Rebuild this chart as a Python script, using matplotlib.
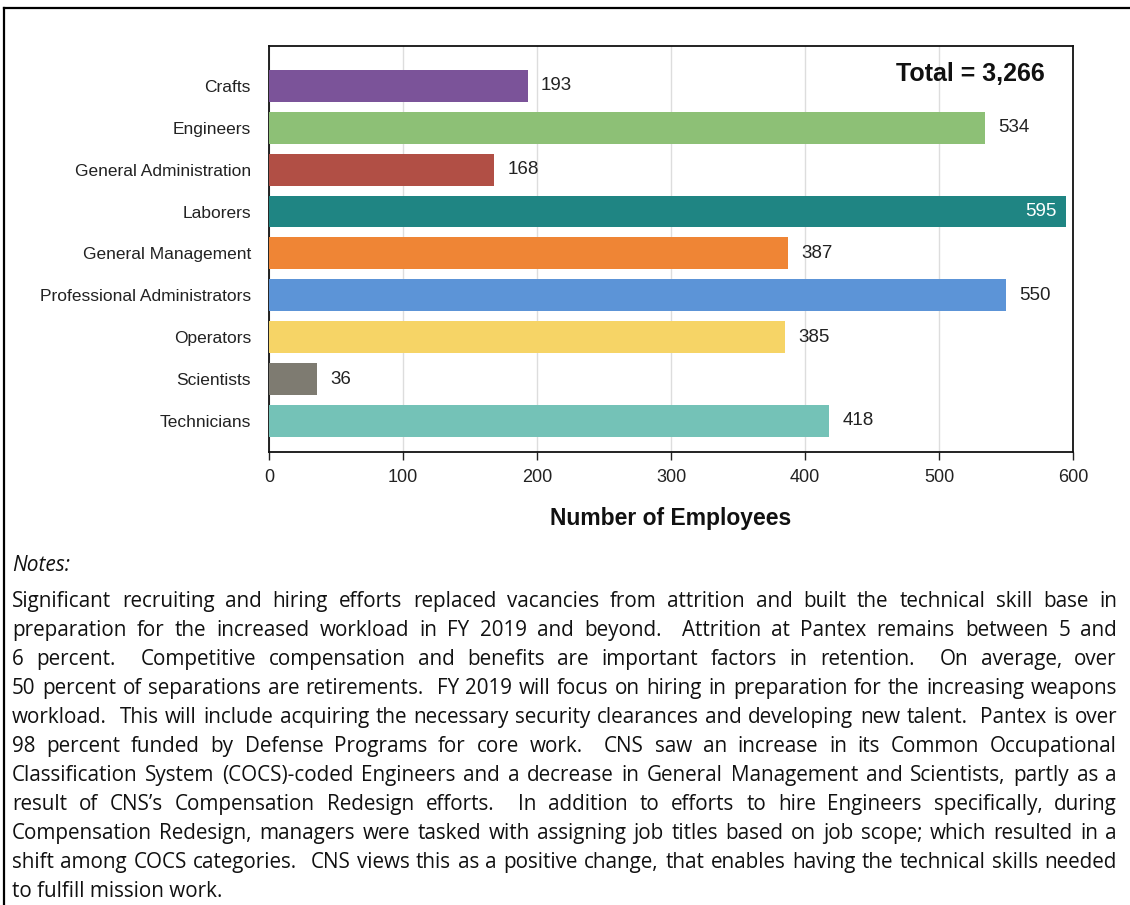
import matplotlib
matplotlib.use("Agg")
import matplotlib.pyplot as plt
from matplotlib.lines import Line2D

categories = ["Crafts", "Engineers", "General Administration", "Laborers",
              "General Management", "Professional Administrators", "Operators",
              "Scientists", "Technicians"]
values = [193, 534, 168, 595, 387, 550, 385, 36, 418]
colors = ["#7B5399", "#8DC076", "#B14F45", "#1F8583", "#EF8535", "#5C94D7",
          "#F6D466", "#7E7B71", "#74C2B7"]
xticks = [0, 100, 200, 300, 400, 500, 600]
total_label = "Total = 3,266"
xlabel = "Number of Employees"
notes_title = "Notes:"
notes_lines = [
    "Significant recruiting and hiring efforts replaced vacancies from attrition and built the technical skill base in",
    "preparation for the increased workload in FY 2019 and beyond.  Attrition at Pantex remains between 5 and",
    "6 percent.  Competitive compensation and benefits are important factors in retention.  On average, over",
    "50 percent of separations are retirements.  FY 2019 will focus on hiring in preparation for the increasing weapons",
    "workload.  This will include acquiring the necessary security clearances and developing new talent.  Pantex is over",
    "98 percent funded by Defense Programs for core work.  CNS saw an increase in its Common Occupational",
    "Classification System (COCS)-coded Engineers and a decrease in General Management and Scientists, partly as a",
    "result of CNS\u2019s Compensation Redesign efforts.  In addition to efforts to hire Engineers specifically, during",
    "Compensation Redesign, managers were tasked with assigning job titles based on job scope; which resulted in a",
    "shift among COCS categories.  CNS views this as a positive change, that enables having the technical skills needed",
    "to fulfill mission work.",
]

W, H = 1130, 905
fig = plt.figure(figsize=(W / 100, H / 100), dpi=100)
fig.patch.set_facecolor("white")

def fx(px):
    return px / W

def fy(py):
    return 1 - py / H

ax = fig.add_axes([fx(269), fy(452), fx(1073) - fx(269), fy(46) - fy(452)])
ypos = list(range(len(categories)))
ax.barh(ypos, values, height=0.76, color=colors, zorder=3)
ax.set_ylim(8.74, -0.95)
ax.set_xlim(0, 600)
ax.set_xticks(xticks)
ax.set_xticklabels([str(t) for t in xticks], fontsize=13, color="#222222",
                   family="Liberation Sans")
ax.set_yticks(ypos)
ax.set_yticklabels(categories, fontsize=12.5, color="#222222", family="Liberation Sans")
ax.tick_params(axis="y", length=0, pad=13)
ax.tick_params(axis="x", length=6, width=1, pad=6, color="#222222")
for s in ax.spines.values():
    s.set_linewidth(1.3)
    s.set_color("#111111")
ax.grid(axis="x", color="#DDDDDD", lw=1, zorder=0)
ax.set_xlabel(xlabel, fontsize=16.5, fontweight="bold", family="Liberation Sans",
              color="#111111", labelpad=15)

for y, v in zip(ypos, values):
    if v > 580:
        ax.text(v - 7, y, str(v), ha="right", va="center", color="white",
                fontsize=13.5, family="Liberation Sans", zorder=4)
    else:
        ax.text(v + 10, y, str(v), ha="left", va="center", color="#222222",
                fontsize=13.5, family="Liberation Sans", zorder=4)

ax.text(0.965, 0.93, total_label, transform=ax.transAxes, ha="right", va="center",
        fontsize=18, fontweight="bold", family="Liberation Sans", color="#111111")

# outer frame (top and left)
fig.add_artist(Line2D([fx(4), 1.0], [fy(8.5), fy(8.5)], color="black", lw=1.6))
fig.add_artist(Line2D([fx(4), fx(4)], [fy(8.5), 0.0], color="black", lw=1.6))

nfont = "Open Sans"

fig.text(fx(12), fy(571), notes_title, fontsize=15, style="italic", family=nfont,
         va="baseline", ha="left", color="#111111")

renderer = fig.canvas.get_renderer()
left, right = 12, 1117
avail = right - left
size = 15.5

def width_of(s, fs):
    t = fig.text(0, 0, s, fontsize=fs, family=nfont)
    w = t.get_window_extent(renderer).width
    t.remove()
    return w

maxw = max(width_of(l, size) for l in notes_lines[:-1])
if maxw > avail * 0.99:
    size = size * avail * 0.99 / maxw

y0 = 607
dy = 29
for i, line in enumerate(notes_lines):
    yy = fy(y0 + i * dy)
    if i == len(notes_lines) - 1:
        fig.text(fx(left), yy, line, fontsize=size, family=nfont, va="baseline",
                 ha="left", color="#111111")
        continue
    parts = line.split(" ")
    words, weights = [], []
    pending = 0
    for p in parts:
        if p == "":
            pending += 1
            continue
        if words:
            weights.append(1 + pending)
        pending = 0
        words.append(p)
    widths = [width_of(w, size) for w in words]
    unit = (avail - sum(widths)) / sum(weights)
    x = left
    for k, (w, ww) in enumerate(zip(words, widths)):
        fig.text(fx(x), yy, w, fontsize=size, family=nfont, va="baseline",
                 ha="left", color="#111111")
        if k < len(weights):
            x += ww + unit * weights[k]

fig.savefig("out.png", dpi=100)
